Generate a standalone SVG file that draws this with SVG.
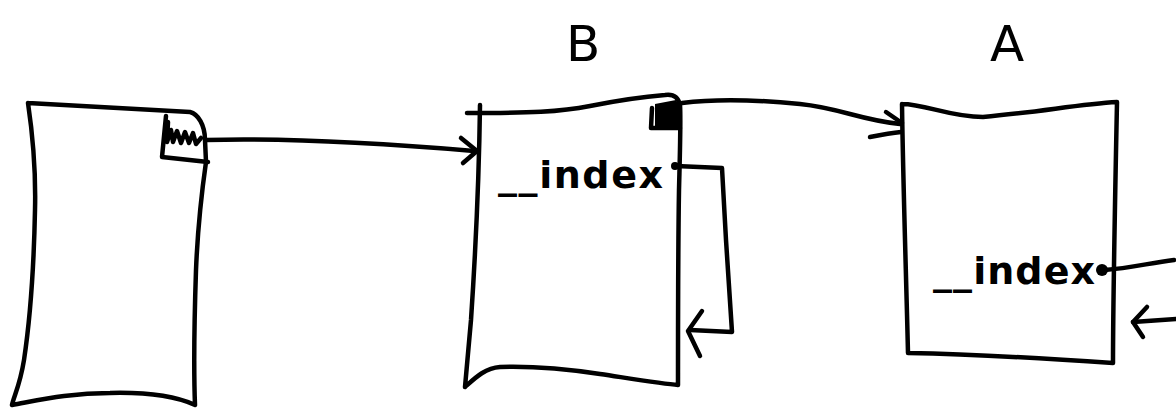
<svg xmlns="http://www.w3.org/2000/svg" width="1176" height="409" viewBox="0 0 1176 409">
<style>
.s{fill:none;stroke:#000;stroke-width:4.5;stroke-linecap:round;stroke-linejoin:round}
.t{font-family:"DejaVu Sans","Liberation Sans",sans-serif;fill:#000;font-weight:bold}
.lbl{font-size:50px;font-weight:normal}
.idx{font-size:38px}
</style>
<rect width="1176" height="409" fill="#fff"/>
<g id="node-left">
<path class="s" d="M28,103 C32,130 36,170 35,210 C34,260 30,320 24,360 C20,385 14,396 12,405 C40,400 70,393 110,393 C150,392 175,396 195,405 C194,380 194,330 196,270 C198,220 202,190 206,162 L205,140 C205,125 198,114 190,112 L28,103"/>
<path class="s" d="M166,116 L162,157 L208,162"/>
<path class="s" stroke-width="2.5" d="M168,122 L167,142 L171,130 L173,142 L177,131 L181,143 L185,132 L189,143 L193,133 L196,144 L201,138"/>
</g>
<g id="node-b">
<path class="s" d="M480,105 C479,180 475,260 471,320 C468,355 466,375 465,387 C475,378 485,368 500,367 C530,366 560,368 600,374 C640,380 665,384 678,385 C678,330 678,250 679,190 C680,150 681,120 680,105 C678,96 672,94 665,95 C640,97 620,100 590,106 C560,112 530,113 467,113"/>
<path class="s" d="M652,108 L651,128 L680,128"/>
<path d="M655,104 L676,100 L681,108 L681,126 L655,126 Z" fill="#000"/>
<text class="t idx" x="498" y="188" textLength="165" lengthAdjust="spacing">__index</text>
</g>
<g id="label-b">
<text class="t lbl" x="566" y="61">B</text>
</g>
<g id="node-a">
<path class="s" d="M902,104 C903,180 906,270 908,353 C960,354 1040,358 1113,363 C1113,300 1115,200 1117,102 C1080,104 1040,112 983,117 C950,117 925,104 902,104"/>
<text class="t idx" x="933" y="284" textLength="162" lengthAdjust="spacing">__index</text>
</g>
<g id="label-a">
<text class="t lbl" x="990" y="61">A</text>
</g>
<g id="connectors">
<path class="s" d="M206,140 C280,138 380,143 474,151"/>
<path class="s" d="M461,138 L477,151 L463,163"/>
<path class="s" d="M682,103 C720,98 760,100 800,104 C840,108 860,120 900,124"/>
<path class="s" d="M886,112 L902,123 M870,137 C880,135 890,133 901,132"/>
<circle cx="675" cy="166" r="4"/>
<path class="s" d="M676,166 L722,168 L726,240 L732,332 L690,330"/>
<path class="s" d="M702,311 L688,331 L700,356"/>
<circle cx="1102" cy="270" r="6"/>
<path class="s" d="M1105,270 C1130,268 1150,263 1174,260"/>
<path class="s" d="M1176,319 L1133,322"/>
<path class="s" d="M1147,307 L1133,322 L1143,337"/>
</g>
</svg>
